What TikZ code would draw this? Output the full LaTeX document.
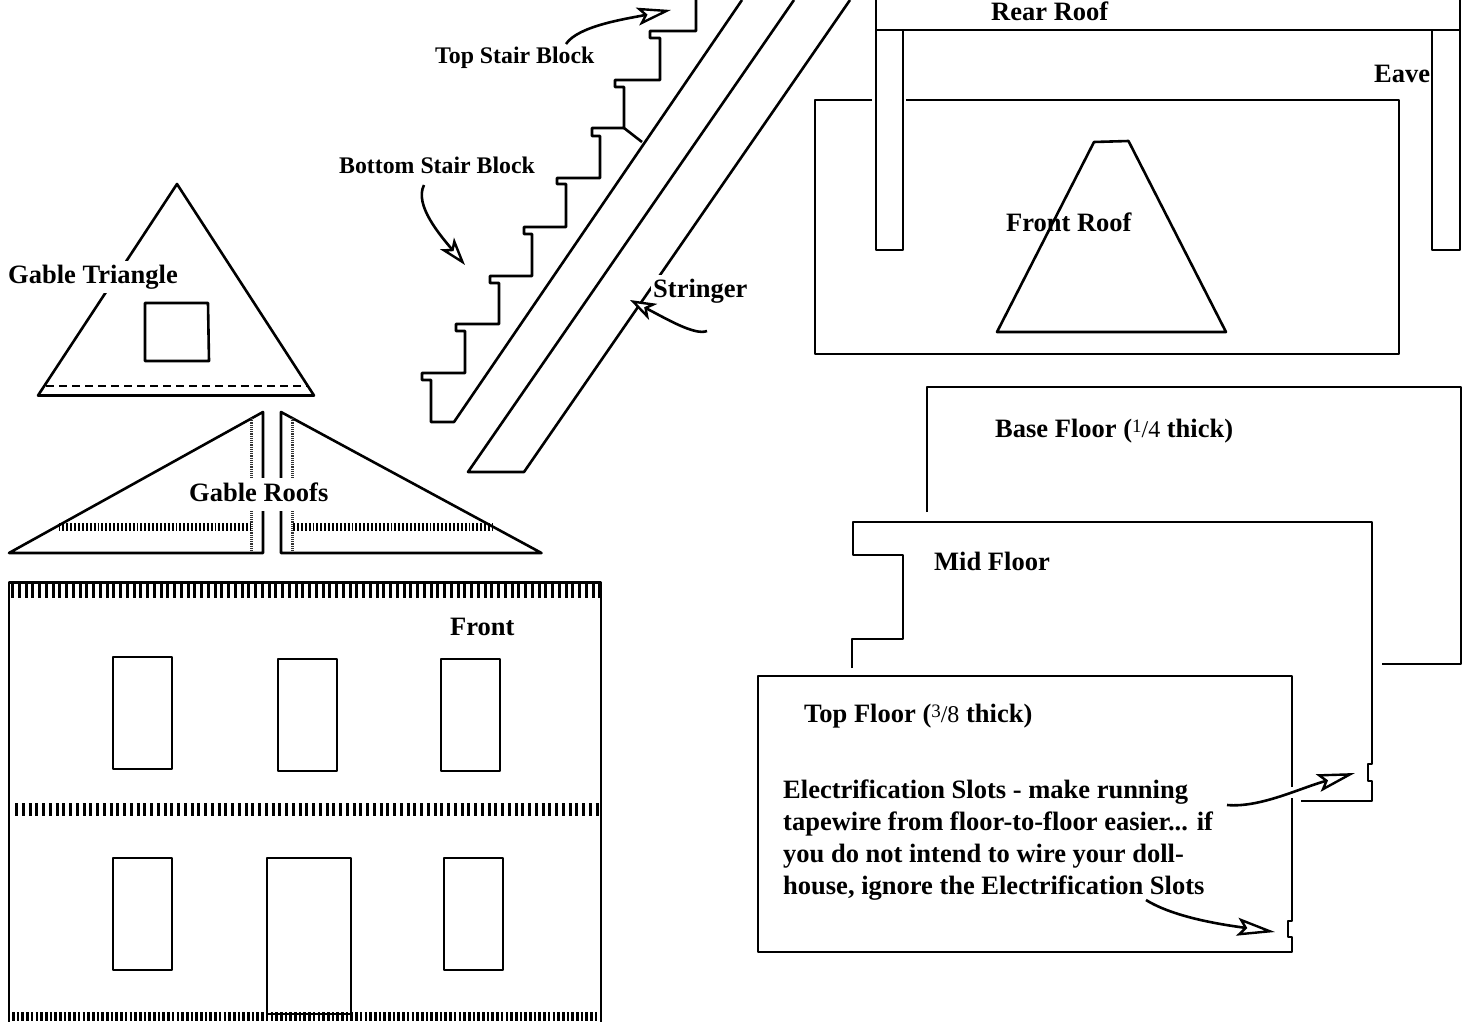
\documentclass[tikz,border=0pt]{standalone}
\usepackage{fontspec}
\setmainfont{Liberation Serif}
\usetikzlibrary{arrows.meta}
\newcommand{\bigfont}{\fontsize{26.5}{32}\selectfont\bfseries}
\newcommand{\smallfont}{\fontsize{23.8}{28}\selectfont\bfseries}
\newcommand{\fracnum}[2]{{\mdseries\raisebox{5pt}{\fontsize{19}{19}\selectfont #1}\fontsize{24}{24}\selectfont /#2}}
\tikzset{
  part/.style={line width=2.6pt,line join=round},
  lbl/.style={font=\bigfont,anchor=base west,inner sep=0pt},
  lblsmall/.style={font=\smallfont,anchor=base west,inner sep=0pt},
  masked/.style={lbl,fill=white,inner xsep=2pt,inner ysep=4pt},
  hatchwide/.style={line width=16pt,dash pattern=on 3pt off 3.75pt},
  hatchmid/.style={line width=13pt,dash pattern=on 3pt off 3.75pt},
  hatchfine/.style={line width=9pt,dash pattern=on 2.6pt off 2.1pt},
  hatchroof/.style={line width=8pt,dash pattern=on 1.9pt off 2pt},
  dotline/.style={line width=3pt,dash pattern=on 1.2pt off 1pt,black!80},
  pointer/.style={line width=2.6pt,-{Stealth[fill=white,length=#1,width=18pt,inset=7pt,line width=2.4pt]}},
}
\begin{document}
\begin{tikzpicture}[x=1pt,y=-1pt]
\useasboundingbox (0,0) rectangle (1478,1022);
% Rear roof
\draw[part] (876,0) -- (876,250) -- (903,250) -- (903,30);
\draw[part] (876,30) -- (1460,30);
\draw[part] (1460,0) -- (1460,250) -- (1432,250) -- (1432,30);
% Front roof
\draw[part] (872,100) -- (815,100) -- (815,354) -- (1399,354) -- (1399,100) -- (906,100);
\draw[part] (1094,142) -- (1128.5,141) -- (1226,332) -- (997,332) -- cycle;
% Stair
\draw[part] (696,0) -- (696,31) -- (650,31) -- (650,38) -- (660,38) -- (660,80) -- (615,80) -- (615,87) -- (624,87) -- (624,128) -- (592,128) -- (592,136) -- (600,136) -- (600,178) -- (557,178) -- (557,184) -- (566,184) -- (566,227) -- (524,227) -- (524,234) -- (532,234) -- (532,276) -- (490,276) -- (490,283) -- (499,283) -- (499,324) -- (456,324) -- (456,331) -- (465,331) -- (465,373) -- (422,373) -- (422,380) -- (431,380) -- (431,422) -- (454,422) -- (742,0);
\draw[part] (624,128) -- (642,142);
% Stringer
\draw[part] (794,0) -- (468,472) -- (524,472) -- (850,0);
% Gable triangle
\draw[part] (177,184) -- (38,395.5) -- (314,395.5) -- cycle;
\draw[part] (145,303) -- (208,303) -- (209,361) -- (145,361) -- cycle;
\draw[line width=2.4pt,dash pattern=on 8pt off 5pt] (46,386) -- (307,386);
% Gable roofs
\draw[part] (263,412) -- (9,553) -- (263,553) -- cycle;
\draw[part] (281,412) -- (541.5,553) -- (281,553) -- cycle;
\draw[dotline] (251,418) -- (251,551);
\draw[dotline] (292,418) -- (292,551);
\draw[hatchroof] (58.5,527) -- (251,527);
\draw[hatchroof] (293,527) -- (493,527);
% Front wall
\draw[part] (9,1022) -- (9,582.5) -- (601,582.5) -- (601,1022);
\draw[hatchwide] (11,590) -- (604,590);
\draw[hatchmid] (15,809.5) -- (600,809.5);
\draw[hatchfine] (12,1016.5) -- (598,1016.5);
\draw[part] (113,657) rectangle (172,769);
\draw[part] (278,659) rectangle (337,771);
\draw[part] (441,659) rectangle (500,771);
\draw[part] (113,858) rectangle (172,970);
\draw[part] (267,858) rectangle (351,1014);
\draw[part] (444,858) rectangle (503,970);
% Floors
\draw[part] (927,512) -- (927,387) -- (1461,387) -- (1461,664) -- (1382,664);
\draw[part] (852,668) -- (852,639) -- (903,639) -- (903,555) -- (853,555) -- (853,522) -- (1372,522) -- (1372,764) -- (1368,764) -- (1368,781) -- (1372,781) -- (1372,801) -- (1301,801);
\draw[part] (1292,787) -- (1292,676) -- (758,676) -- (758,952) -- (1292,952) -- (1292,937) -- (1288,937) -- (1288,921) -- (1292,921) -- (1292,798);
% Labels
\node[lbl] (rearroof) at (991,21) {Rear Roof};
\node[lbl] (eave) at (1374,83) {Eave};
\node[lbl] (frontroof) at (1006,231) {Front Roof};
\node[lblsmall] (topstair) at (435,64) {Top Stair Block};
\node[lblsmall] (bottomstair) at (339,174) {Bottom Stair Block};
\node[masked] (gabletri) at (6,283) {Gable Triangle};
\node[masked] (gableroofs) at (187,501) {Gable Roofs\vphantom{g}};
\node[masked] (stringer) at (651,297) {Stringer};
\node[lbl] (front) at (450,635) {Front};
\node[lbl] (basefloor) at (995,437) {Base Floor (\fracnum{1}{4} thick)};
\node[lbl] (midfloor) at (934,570) {Mid Floor};
\node[lbl] (topfloor) at (804,722) {Top Floor (\fracnum{3}{8} thick)};
\node[lbl,anchor=north west,align=left] (slots) at (783,780) {Electrification Slots - make running\\tapewire from floor-to-floor easier... if\\you do not intend to wire your doll-\\house, ignore the Electrification Slots};
% Arrows
\coordinate (a1s) at (566,44); \coordinate (a1e) at (671,10);
\coordinate (a2s) at (424,185); \coordinate (a2e) at (465,265);
\coordinate (a3s) at (707,331); \coordinate (a3e) at (630,300);
\coordinate (a4s) at (1227,805); \coordinate (a4e) at (1355,773);
\coordinate (a5s) at (1146,900); \coordinate (a5e) at (1275,932);
\draw[pointer=34pt] (a1s) .. controls (578,26) and (625,19) .. (a1e);
\draw[pointer=28pt] (a2s) .. controls (414,205) and (440,235) .. (a2e);
\draw[pointer=26pt] (a3s) .. controls (695,336) and (665,318) .. (a3e);
\draw[pointer=38pt] (a4s) .. controls (1260,808) and (1300,788) .. (a4e);
\draw[pointer=38pt] (a5s) .. controls (1175,918) and (1225,925) .. (a5e);
\end{tikzpicture}
\end{document}
